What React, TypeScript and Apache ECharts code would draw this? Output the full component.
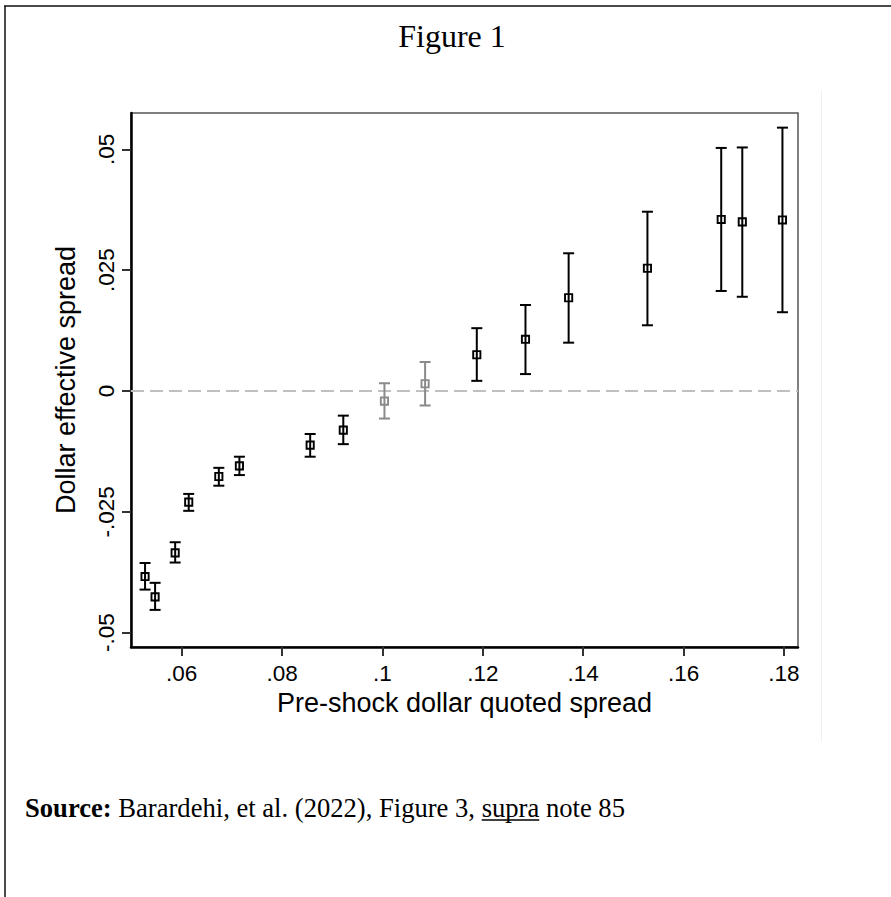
import React, { useEffect, useRef } from "react";
import * as echarts from "echarts";

// Data
const xValues = [0.0527, 0.0547, 0.0587, 0.0614, 0.0674, 0.0715, 0.0856, 0.0922, 0.1004, 0.1085, 0.1188, 0.1285, 0.1371, 0.1528, 0.1675, 0.1717, 0.1797];
const estimates = [-0.0384, -0.0426, -0.0335, -0.0230, -0.0177, -0.0155, -0.0112, -0.0081, -0.0021, 0.0015, 0.0075, 0.0107, 0.0193, 0.0254, 0.0355, 0.0350, 0.0354];
const lowerCI = [-0.0411, -0.0453, -0.0355, -0.0248, -0.0196, -0.0174, -0.0136, -0.0110, -0.0057, -0.0030, 0.0021, 0.0035, 0.0100, 0.0136, 0.0207, 0.0195, 0.0163];
const upperCI = [-0.0356, -0.0397, -0.0313, -0.0213, -0.0159, -0.0136, -0.0089, -0.0051, 0.0016, 0.0060, 0.0130, 0.0178, 0.0285, 0.0371, 0.0503, 0.0504, 0.0545];
const insignificant = [0, 0, 0, 0, 0, 0, 0, 0, 1, 1, 0, 0, 0, 0, 0, 0, 0];

const xTicks = [0.06, 0.08, 0.1, 0.12, 0.14, 0.16, 0.18];
const yTicks = [-0.05, -0.025, 0, 0.025, 0.05];
const xMin = 0.0499;
const xMax = 0.1828;
const yMin = -0.05298;
const yMax = 0.05753;

const titleText = "Figure 1";
const xTitle = "Pre-shock dollar quoted spread";
const yTitle = "Dollar effective spread";

const fmt = (v: number) => {
  if (Math.abs(v) < 1e-9) return "0";
  const s = String(+v.toFixed(4));
  return s.replace(/^(-?)0\./, "$1.");
};

export default function App() {
  const ref = useRef<HTMLDivElement>(null);
  useEffect(() => {
    if (!ref.current) return;
    const chart = echarts.init(ref.current, null, { renderer: "svg" });

    // measure source text for underline placement
    const srcFont = 26.6;
    const cv = document.createElement("canvas").getContext("2d")!;
    cv.font = `bold ${srcFont}px 'Liberation Serif'`;
    const wBold = cv.measureText("Source:").width;
    cv.font = `${srcFont}px 'Liberation Serif'`;
    const wPre = cv.measureText(" Barardehi, et al. (2022), Figure 3, ").width;
    const wSupra = cv.measureText("supra").width;
    const srcX = 25;
    const srcY = 808;
    const ulX1 = srcX + wBold + wPre;
    const ulX2 = ulX1 + wSupra;

    const data = xValues.map((x, i) => [x, estimates[i], lowerCI[i], upperCI[i], insignificant[i]]);

    chart.setOption({
      animation: false,
      backgroundColor: "#ffffff",
      grid: {
        left: 131,
        top: 113,
        right: 93,
        bottom: 250,
        show: true,
        borderColor: "#555555",
        borderWidth: 1.5,
        backgroundColor: "transparent",
      },
      xAxis: {
        type: "value",
        min: xMin,
        max: xMax,
        name: xTitle,
        nameLocation: "middle",
        nameGap: 38,
        nameTextStyle: { fontFamily: "Liberation Sans", fontSize: 27, color: "#000" },
        axisLine: { show: true, onZero: false, lineStyle: { color: "#000", width: 2.5 } },
        axisTick: { show: true, customValues: xTicks, length: 9, lineStyle: { color: "#333", width: 2 } },
        axisLabel: {
          customValues: xTicks,
          formatter: (v: number) => fmt(v),
          fontFamily: "Liberation Sans",
          fontSize: 22.5,
          color: "#000",
          margin: 15,
        },
        splitLine: { show: false },
      },
      yAxis: {
        type: "value",
        min: yMin,
        max: yMax,
        name: yTitle,
        nameLocation: "middle",
        nameGap: 52,
        nameRotate: 90,
        nameTextStyle: { fontFamily: "Liberation Sans", fontSize: 27, color: "#000" },
        axisLine: { show: true, onZero: false, lineStyle: { color: "#000", width: 2.5 } },
        axisTick: { show: true, customValues: yTicks, length: 9, lineStyle: { color: "#333", width: 2 } },
        axisLabel: {
          customValues: yTicks,
          rotate: 90,
          formatter: (v: number) => fmt(v),
          fontFamily: "Liberation Sans",
          fontSize: 22.5,
          color: "#000",
          margin: 13,
        },
        splitLine: { show: false },
      },
      series: [
        {
          type: "line",
          data: [[xMin, 0], [xMax, 0]],
          showSymbol: false,
          symbol: "none",
          silent: true,
          z: 1,
          lineStyle: { color: "#c0c0c0", width: 2, type: [13, 6] },
        },
        {
          type: "custom",
          data,
          z: 3,
          clip: false,
          encode: { x: 0, y: 1 },
          renderItem: (params: any, api: any) => {
            const x = api.value(0);
            const y = api.value(1);
            const lo = api.value(2);
            const hi = api.value(3);
            const g = api.value(4);
            const p = api.coord([x, y]);
            const pl = api.coord([x, lo]);
            const ph = api.coord([x, hi]);
            const color = g ? "#8a8a8a" : "#000000";
            const cw = 5.5;
            const s = 3.6;
            return {
              type: "group",
              children: [
                { type: "line", shape: { x1: p[0], y1: ph[1], x2: p[0], y2: pl[1] }, style: { stroke: color, lineWidth: 2 } },
                { type: "line", shape: { x1: p[0] - cw, y1: ph[1], x2: p[0] + cw, y2: ph[1] }, style: { stroke: color, lineWidth: 2 } },
                { type: "line", shape: { x1: p[0] - cw, y1: pl[1], x2: p[0] + cw, y2: pl[1] }, style: { stroke: color, lineWidth: 2 } },
                { type: "rect", shape: { x: p[0] - s, y: p[1] - s, width: 2 * s, height: 2 * s }, style: { fill: "none", stroke: color, lineWidth: 1.9 } },
              ],
            };
          },
        },
      ],
      graphic: [
        { type: "line", shape: { x1: 4, y1: 6, x2: 891, y2: 6 }, style: { stroke: "#111", lineWidth: 1.5 }, silent: true },
        { type: "line", shape: { x1: 5, y1: 6, x2: 5, y2: 897 }, style: { stroke: "#111", lineWidth: 1.5 }, silent: true },
        { type: "line", shape: { x1: 821.5, y1: 90, x2: 821.5, y2: 742 }, style: { stroke: "#f0f0f0", lineWidth: 1 }, silent: true },
        {
          type: "text",
          x: 452,
          y: 36,
          style: {
            text: titleText,
            fontFamily: "Liberation Serif",
            fontSize: 32,
            fill: "#000",
            align: "center",
            verticalAlign: "middle",
          },
        },
        {
          type: "text",
          x: srcX,
          y: srcY,
          style: {
            text: "{b|Source:} Barardehi, et al. (2022), Figure 3, supra note 85",
            fontFamily: "Liberation Serif",
            fontSize: srcFont,
            fill: "#000",
            align: "left",
            verticalAlign: "middle",
            rich: {
              b: { fontFamily: "Liberation Serif", fontSize: srcFont, fontWeight: "bold", fill: "#000" },
            },
          },
        },
        { type: "line", shape: { x1: ulX1, y1: srcY + 12, x2: ulX2, y2: srcY + 12 }, style: { stroke: "#000", lineWidth: 1.5 }, silent: true },
      ],
    });

    return () => chart.dispose();
  }, []);

  return <div ref={ref} style={{ position: "absolute", left: 0, top: 0, width: 891, height: 897 }} />;
}
